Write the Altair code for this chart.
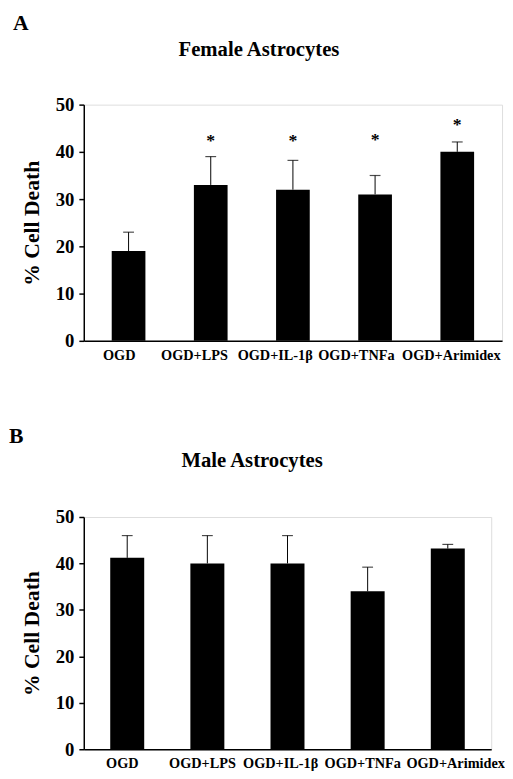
import altair as alt
import pandas as pd

categories = ["OGD", "OGD+LPS", "OGD+IL-1β", "OGD+TNFa", "OGD+Arimidex"]
female_mean = [19.0, 33.0, 32.0, 31.0, 40.0]
female_sem = [4.0, 6.0, 6.2, 4.0, 2.1]
female_sig = ["", "*", "*", "*", "*"]
female_star = [None, 42.7, 42.7, 42.9, 46.1]
male_mean = [41.2, 40.0, 40.0, 34.0, 43.2]
male_sem = [4.8, 6.0, 6.0, 5.2, 0.9]
male_sig = ["", "", "", "", ""]
male_star = [None, None, None, None, None]
y_ticks = [0, 10, 20, 30, 40, 50]

FONT = "Liberation Serif"


def offsets(per_label, default):
    return {
        "condition": [
            {"test": f"datum.value == '{k}'", "value": v}
            for k, v in per_label.items()
        ],
        "value": default,
    }


def panel(mean, sem, sig, star, letter, title, width, height, label_offset,
          letter_xy, title_xy, p_inner, p_outer):
    df = pd.DataFrame({"cat": categories, "mean": mean, "sem": sem,
                       "sig": sig, "star": star})
    base = alt.Chart(df).transform_calculate(upper="datum.mean + datum.sem")
    xenc = alt.X(
        "cat:N", sort=categories, title=None,
        scale=alt.Scale(paddingInner=p_inner, paddingOuter=p_outer),
        axis=alt.Axis(labelAngle=0, labelFont=FONT, labelFontWeight="bold",
                      labelFontSize=14.5, labelColor="black", ticks=False,
                      domainColor="black", domainWidth=1.5, labelPadding=8,
                      labelOffset=label_offset, labelOverlap=False,
                      labelBound=False),
    )
    yenc = alt.Y(
        "mean:Q", title="% Cell Death",
        scale=alt.Scale(domain=[0, 50], nice=False, zero=True),
        axis=alt.Axis(values=y_ticks, grid=False, labelFont=FONT,
                      labelFontWeight="bold", labelFontSize=19,
                      labelColor="black", tickColor="black", tickWidth=1.5,
                      tickSize=5, labelPadding=5, domainColor="black",
                      domainWidth=1.5, titleFont=FONT, titleFontWeight="bold",
                      titleFontSize=22, titleColor="black", titlePadding=12),
    )
    bars = base.mark_bar(color="black").encode(x=xenc, y=yenc)
    rule = base.mark_rule(color="black", strokeWidth=1).encode(
        x=alt.X("cat:N", sort=categories), y="mean:Q", y2="upper:Q")
    cap = base.mark_tick(color="black", thickness=1.2, size=11).encode(
        x=alt.X("cat:N", sort=categories), y="upper:Q")
    stars = base.transform_filter("datum.sig != ''").mark_text(
        font=FONT, fontWeight="bold", fontSize=18, color="black",
        baseline="middle", dy=2).encode(
        x=alt.X("cat:N", sort=categories), y="star:Q", text="sig:N")
    lab = alt.Chart(pd.DataFrame({"t": [letter]})).mark_text(
        font=FONT, fontWeight="bold", fontSize=22, color="black",
        align="left", baseline="middle").encode(
        x=alt.value(letter_xy[0]), y=alt.value(letter_xy[1]), text="t:N")
    ttl = alt.Chart(pd.DataFrame({"t": [title]})).mark_text(
        font=FONT, fontWeight="bold", fontSize=21, color="black",
        align="center", baseline="middle").encode(
        x=alt.value(title_xy[0]), y=alt.value(title_xy[1]), text="t:N")
    return alt.layer(bars, rule, cap, stars, lab, ttl).properties(
        width=width, height=height)


chart_a = panel(female_mean, female_sem, female_sig, female_star, "A",
                "Female Astrocytes", 425, 240,
                offsets({"OGD": -9.5, "OGD+LPS": -16.5, "OGD+IL-1β": -18,
                         "OGD+TNFa": -19, "OGD+Arimidex": -6}, -12),
                (-72, -83), (178, -55), 0.59, 0.34)
chart_b = panel(male_mean, male_sem, male_sig, male_star, "B",
                "Male Astrocytes", 414, 236,
                offsets({"OGD": -5, "OGD+LPS": -5, "OGD+IL-1β": -7,
                         "OGD+TNFa": -5, "OGD+Arimidex": 8}, -3),
                (-76, -82), (171, -57), 0.576, 0.33)

chart = alt.vconcat(chart_a, chart_b, spacing=63).properties(
    padding={"left": 0, "top": -3, "right": 0, "bottom": 0}
).configure_view(stroke=None).configure(background="white")

chart.save("out.html", embed_options={"renderer": "svg", "actions": False})
